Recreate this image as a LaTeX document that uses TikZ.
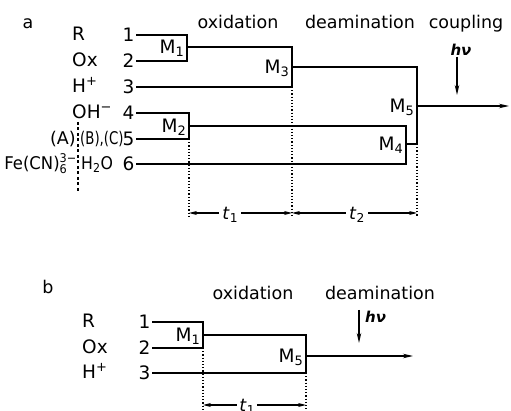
\documentclass[tikz,border=0pt]{standalone}
\usepackage{fontspec}
\setmainfont{DejaVu Sans}
\usepackage{graphicx}
\usetikzlibrary{arrows.meta}

\tikzset{
  lab/.style={inner sep=1pt, text height=12.5pt, text depth=0pt, font=\fontsize{17.5}{20}\selectfont},
  big/.style={lab, font=\fontsize{18.5}{21}\selectfont},
  num/.style={big, anchor=east, inner sep=1.5pt},
  spec/.style={big, anchor=west, inner sep=0pt},
  mlab/.style={big, anchor=east, inner sep=2.5pt},
  hvlab/.style={lab, text height=11pt, font=\fontsize{15}{17}\selectfont\bfseries\itshape},
  wire/.style={line width=1.3pt},
  flow/.style={wire, -{Stealth[length=10pt,width=4.5pt]}},
  guide/.style={line width=1.2pt, dotted},
  dimline/.style={line width=1.1pt, {Stealth[length=8pt,width=4pt]}-{Stealth[length=8pt,width=4pt]}},
}

\begin{document}
\begin{tikzpicture}[x=1pt,y=-1pt]
    \useasboundingbox (0,0) rectangle (511,411);

        % 1. Parte a: titoli delle fasi
        \node[lab] (pa) at (28,22) {a};
        \node[lab] (oxa) at (238,22) {oxidation};
        \node[lab] (dea) at (360,22) {deamination};
        \node[lab] (cpa) at (466,22) {coupling};

        % 2. Reagenti e numeri dei canali
        \node[spec] (sR) at (72,34) {R};
        \node[spec] (sOx) at (72,60) {Ox};
        \node[spec] (sH) at (72,86) {H\textsuperscript{+}};
        \node[spec] (sOH) at (72,112) {OH\textsuperscript{−}};
        \node[lab, anchor=east, inner sep=0pt] (sA) at (76,138) {(A)};
        \node[lab, anchor=west, inner sep=0pt] (sBC) at (80,138) {\scalebox{0.76}[1]{(B),(C)}};
        \node[lab, anchor=east, inner sep=0pt] (sFe) at (77,163) {\scalebox{0.94}[1]{Fe(CN)$^{\mbox{\fontsize{12}{12}\selectfont 3−}}_{\mbox{\fontsize{12}{12}\selectfont 6}}$}};
        \node[lab, anchor=west, inner sep=0pt] (sW) at (81,163) {\scalebox{0.9}[1]{H\textsubscript{2}O}};
        \node[num] (a1) at (136,35) {1};
        \node[num] (a2) at (136,61) {2};
        \node[num] (a3) at (136,87) {3};
        \node[num] (a4) at (136,113) {4};
        \node[num] (a5) at (136,139) {5};
        \node[num] (a6) at (136,164) {6};

        % 3. Miscelatori
        \coordinate (M1) at (187,47);
        \coordinate (M2) at (189,126);
        \coordinate (M3) at (292,67);
        \coordinate (M4) at (406,144);
        \coordinate (M5) at (417,106);
        \coordinate (outa) at (509,106);
        \draw[wire] (a1.east) -| (M1) |- (a2.east);
        \draw[wire] (a4.east) -| (M2) |- (a5.east);
        \draw[wire] (M1) -| (M3) |- (a3.east);
        \draw[wire] (M2) -| (M4) |- (a6.east);
        \draw[wire] (M3) -| (M5) |- (M4);
        \draw[flow] (M5) -- (outa);
        \node[mlab] (m1) at (M1) {M\textsubscript{1}};
        \node[mlab] (m2) at (M2) {M\textsubscript{2}};
        \node[mlab] (m3) at (M3) {M\textsubscript{3}};
        \node[mlab] (m4) at (M4) {M\textsubscript{4}};
        \node[mlab] (m5) at (M5) {M\textsubscript{5}};

        % 4. Separatore tratteggiato
        \coordinate (dv0) at (78,122);
        \coordinate (dv1) at (78,191);
        \draw[line width=1.1pt, dash pattern=on 3pt off 2.5pt] (dv0) -- (dv1);

        % 5. Luce
        \node[hvlab] (hva) at (461,50) {hν};
        \coordinate (hvaend) at (457,95);
        \draw[flow] (hva.south -| hvaend) -- (hvaend);

        % 6. Tempi t1 e t2
        \coordinate (ta0) at (189,213);
        \coordinate (ta1) at (292,213);
        \coordinate (ta2) at (417,213);
        \draw[guide] (M2 |- a5.east) -- ([yshift=-4pt]ta0);
        \draw[guide] (M3 |- a3.east) -- ([yshift=-4pt]ta1);
        \draw[guide] (M4 -| M5) -- ([yshift=-4pt]ta2);
        \draw[dimline] (ta0) -- node[lab, pos=0.4, fill=white, inner sep=3pt] (t1a) {\textit{t}\textsubscript{1}} (ta1);
        \draw[dimline] (ta1) -- node[lab, pos=0.52, fill=white, inner sep=3pt] (t2a) {\textit{t}\textsubscript{2}} (ta2);

        % 7. Parte b
        \node[lab] (pb) at (48,287) {b};
        \node[lab] (oxb) at (253,293) {oxidation};
        \node[lab] (deb) at (380,293) {deamination};
        \node[spec] (bR) at (82,321) {R};
        \node[spec] (bOx) at (82,347) {Ox};
        \node[spec] (bH) at (82,372) {H\textsuperscript{+}};
        \node[num] (b1) at (152,322) {1};
        \node[num] (b2) at (152,348) {2};
        \node[num] (b3) at (152,373) {3};

        \coordinate (M1b) at (203,335);
        \coordinate (M5b) at (306,356);
        \coordinate (outb) at (413,356);
        \draw[wire] (b1.east) -| (M1b) |- (b2.east);
        \draw[wire] (M1b) -| (M5b) |- (b3.east);
        \draw[flow] (M5b) -- (outb);
        \node[mlab] (m1b) at (M1b) {M\textsubscript{1}};
        \node[mlab] (m5b) at (M5b) {M\textsubscript{5}};

        \node[hvlab, anchor=west] (hvb) at (364,317) {hν};
        \coordinate (hvbtop) at (359,310);
        \coordinate (hvbend) at (359,343);
        \draw[flow] (hvbtop) -- (hvbend);

        \coordinate (tb0) at (203,405);
        \coordinate (tb1) at (306,405);
        \draw[guide] (M1b |- b2.east) -- ([yshift=-6pt]tb0);
        \draw[guide] (M5b |- b3.east) -- ([yshift=-6pt]tb1);
        \draw[dimline] (tb0) -- node[lab, pos=0.43, fill=white, inner sep=2pt] (t1b) {\textit{t}\textsubscript{1}} (tb1);
\end{tikzpicture}
\end{document}
